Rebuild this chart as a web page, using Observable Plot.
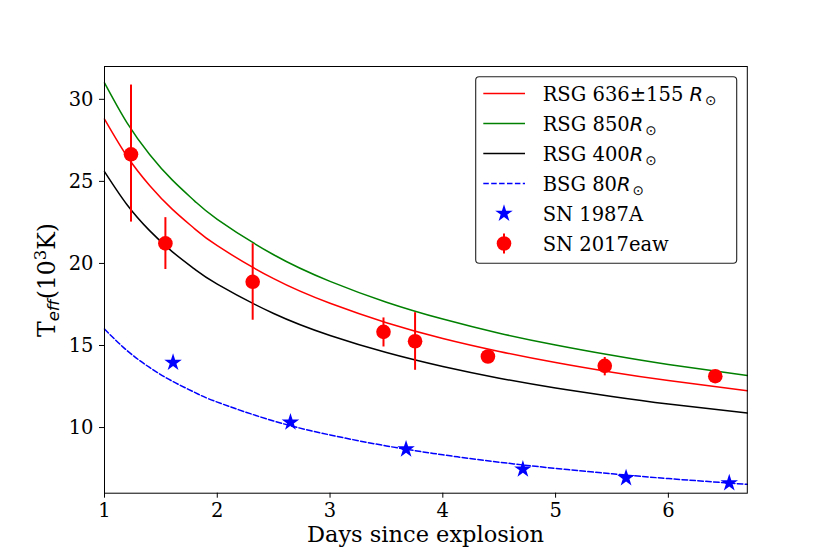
<!DOCTYPE html>
<html><head><meta charset="utf-8">
<script src="https://cdn.jsdelivr.net/npm/d3@7"></script>
<script src="https://cdn.jsdelivr.net/npm/@observablehq/plot@0.6"></script>
<style>body{margin:0;background:#fff;}</style>
</head><body><div id="chart"></div>
<script>
// Model curves
const modelDays = [1, 1.2, 1.4, 1.6, 1.8, 2, 2.5, 3, 3.5, 4, 4.5, 5, 5.5, 6, 6.7];
const rsg636 = [28.8, 26.53, 24.75, 23.31, 22.11, 21.08, 19.07, 17.57, 16.39, 15.43, 14.64, 13.96, 13.37, 12.86, 12.24];
const rsg850 = [31.0, 28.56, 26.64, 25.09, 23.80, 22.69, 20.53, 18.91, 17.64, 16.61, 15.75, 15.03, 14.40, 13.84, 13.17];
const rsg400 = [25.6, 23.58, 22.00, 20.72, 19.65, 18.74, 16.95, 15.61, 14.57, 13.72, 13.01, 12.41, 11.89, 11.43, 10.88];
const bsg80  = [16.0, 14.69, 13.66, 12.83, 12.14, 11.55, 10.40, 9.55, 8.88, 8.34, 7.89, 7.51, 7.18, 6.89, 6.54];
// SN 2017eaw observations
const sn2017Days = [1.235, 1.54, 2.314, 3.474, 3.754, 4.40, 5.436, 6.416];
const sn2017T    = [26.65, 21.22, 18.88, 15.83, 15.26, 14.33, 13.76, 13.13];
const sn2017Lo   = [22.52, 19.63, 16.54, 14.91, 13.49, 14.10, 13.15, 12.95];
const sn2017Hi   = [30.87, 22.79, 21.20, 16.68, 17.00, 14.55, 14.27, 13.30];
// SN 1987A observations
const sn1987Days = [1.608, 2.649, 3.674, 4.71, 5.625, 6.54];
const sn1987T    = [13.96, 10.32, 8.68, 7.46, 6.93, 6.62];
// Ticks
const xTicks = [1, 2, 3, 4, 5, 6];
const yTicks = [10, 15, 20, 25, 30];

const curveData = vals => modelDays.map((d, i) => ({x: d, y: vals[i]}));
const sn2017 = sn2017Days.map((d, i) => ({x: d, y: sn2017T[i], lo: sn2017Lo[i], hi: sn2017Hi[i]}));
const sn1987 = sn1987Days.map((d, i) => ({x: d, y: sn1987T[i]}));

const serif = "'DejaVu Serif', serif";
const sans = "'DejaVu Sans', sans-serif";
const starR = 5.5;

const svg = Plot.plot({
  width: 830, height: 554,
  marginLeft: 104, marginRight: 83.2, marginTop: 66, marginBottom: 61.3,
  style: {fontFamily: serif, fontSize: "19.5px", background: "white", color: "black"},
  x: {domain: [1, 6.7]},
  y: {domain: [6, 32]},
  marks: [
    Plot.axisX({ticks: xTicks, tickSize: 5, tickPadding: 5, label: null, fontSize: 19.5, tickFormat: d => String(d)}),
    Plot.axisY({ticks: yTicks, tickSize: 5, tickPadding: 6, label: null, fontSize: 19.5, tickFormat: d => String(d)}),
    Plot.line(curveData(rsg636), {x: "x", y: "y", stroke: "#ff0000", strokeWidth: 1.5, curve: "natural"}),
    Plot.line(curveData(rsg850), {x: "x", y: "y", stroke: "#008000", strokeWidth: 1.5, curve: "natural"}),
    Plot.line(curveData(rsg400), {x: "x", y: "y", stroke: "#000000", strokeWidth: 1.5, curve: "natural"}),
    Plot.line(curveData(bsg80), {x: "x", y: "y", stroke: "#0000ff", strokeWidth: 1.5, strokeDasharray: "5.5,2.4", curve: "natural"}),
    Plot.dot(sn1987, {x: "x", y: "y", symbol: "star", r: starR, fill: "#0000ff", stroke: "none"}),
    Plot.ruleX(sn2017, {x: "x", y1: "lo", y2: "hi", stroke: "#ff0000", strokeWidth: 2}),
    Plot.dot(sn2017, {x: "x", y: "y", r: 7.3, fill: "#ff0000", stroke: "none"}),
    Plot.frame({stroke: "black", strokeWidth: 1})
  ]
});
document.getElementById("chart").appendChild(svg);

const s = d3.select(svg);
// X axis label
s.append("text").attr("x", 425.5).attr("y", 542).attr("text-anchor", "middle")
  .attr("font-family", serif).attr("font-size", 22.5).attr("fill", "black")
  .text("Days since explosion");
// Y axis label
const yl = s.append("text").attr("transform", "translate(54.5,280) rotate(-90)")
  .attr("text-anchor", "middle").attr("font-family", serif).attr("font-size", 23.5).attr("fill", "black");
yl.append("tspan").text("T");
yl.append("tspan").attr("font-family", sans).attr("font-style", "italic").attr("font-size", 16.5).attr("dy", 4).text("eff");
yl.append("tspan").attr("dy", -4).text("(10");
yl.append("tspan").attr("font-size", 16.5).attr("dy", -9).text("3");
yl.append("tspan").attr("dy", 9).text("K)");

// Legend
const lg = s.append("g").attr("font-family", serif).attr("font-size", 19.5).attr("text-anchor", "start");
lg.append("rect").attr("x", 475.7).attr("y", 76.7).attr("width", 261).attr("height", 186.6)
  .attr("rx", 3.5).attr("fill", "white").attr("stroke", "#222").attr("stroke-width", 1.1);
const rows = [
  {pre: "RSG 636±155 ", sun: true, type: "line", color: "#ff0000"},
  {pre: "RSG 850", sun: true, type: "line", color: "#008000"},
  {pre: "RSG 400", sun: true, type: "line", color: "#000000"},
  {pre: "BSG 80", sun: true, type: "dash", color: "#0000ff"},
  {pre: "SN 1987A", sun: false, type: "star", color: "#0000ff"},
  {pre: "SN 2017eaw", sun: false, type: "dot", color: "#ff0000"}
];
rows.forEach((r, i) => {
  const cy = 93.5 + i * 30;
  if (r.type === "line" || r.type === "dash") {
    const l = lg.append("line").attr("x1", 483.3).attr("x2", 525).attr("y1", cy).attr("y2", cy)
      .attr("stroke", r.color).attr("stroke-width", 1.5);
    if (r.type === "dash") l.attr("stroke-dasharray", "5.5,2.4");
  } else if (r.type === "star") {
    lg.append("path").attr("d", d3.symbol(d3.symbolStar, Math.PI * starR * starR)())
      .attr("transform", `translate(504,${cy})`).attr("fill", r.color);
  } else {
    lg.append("line").attr("x1", 504).attr("x2", 504).attr("y1", cy - 10).attr("y2", cy + 10)
      .attr("stroke", r.color).attr("stroke-width", 2);
    lg.append("circle").attr("cx", 504).attr("cy", cy).attr("r", 7.3).attr("fill", r.color);
  }
  const t = lg.append("text").attr("x", 542.7).attr("y", cy + 7).attr("fill", "black").attr("text-anchor", "start");
  t.append("tspan").text(r.pre);
  if (r.sun) {
    t.append("tspan").attr("font-family", sans).attr("font-style", "italic").text("R");
    t.append("tspan").attr("font-family", sans).attr("font-size", 13.5).attr("dx", 2).attr("dy", 4).text("⊙");
  }
});
</script>
</body></html>
